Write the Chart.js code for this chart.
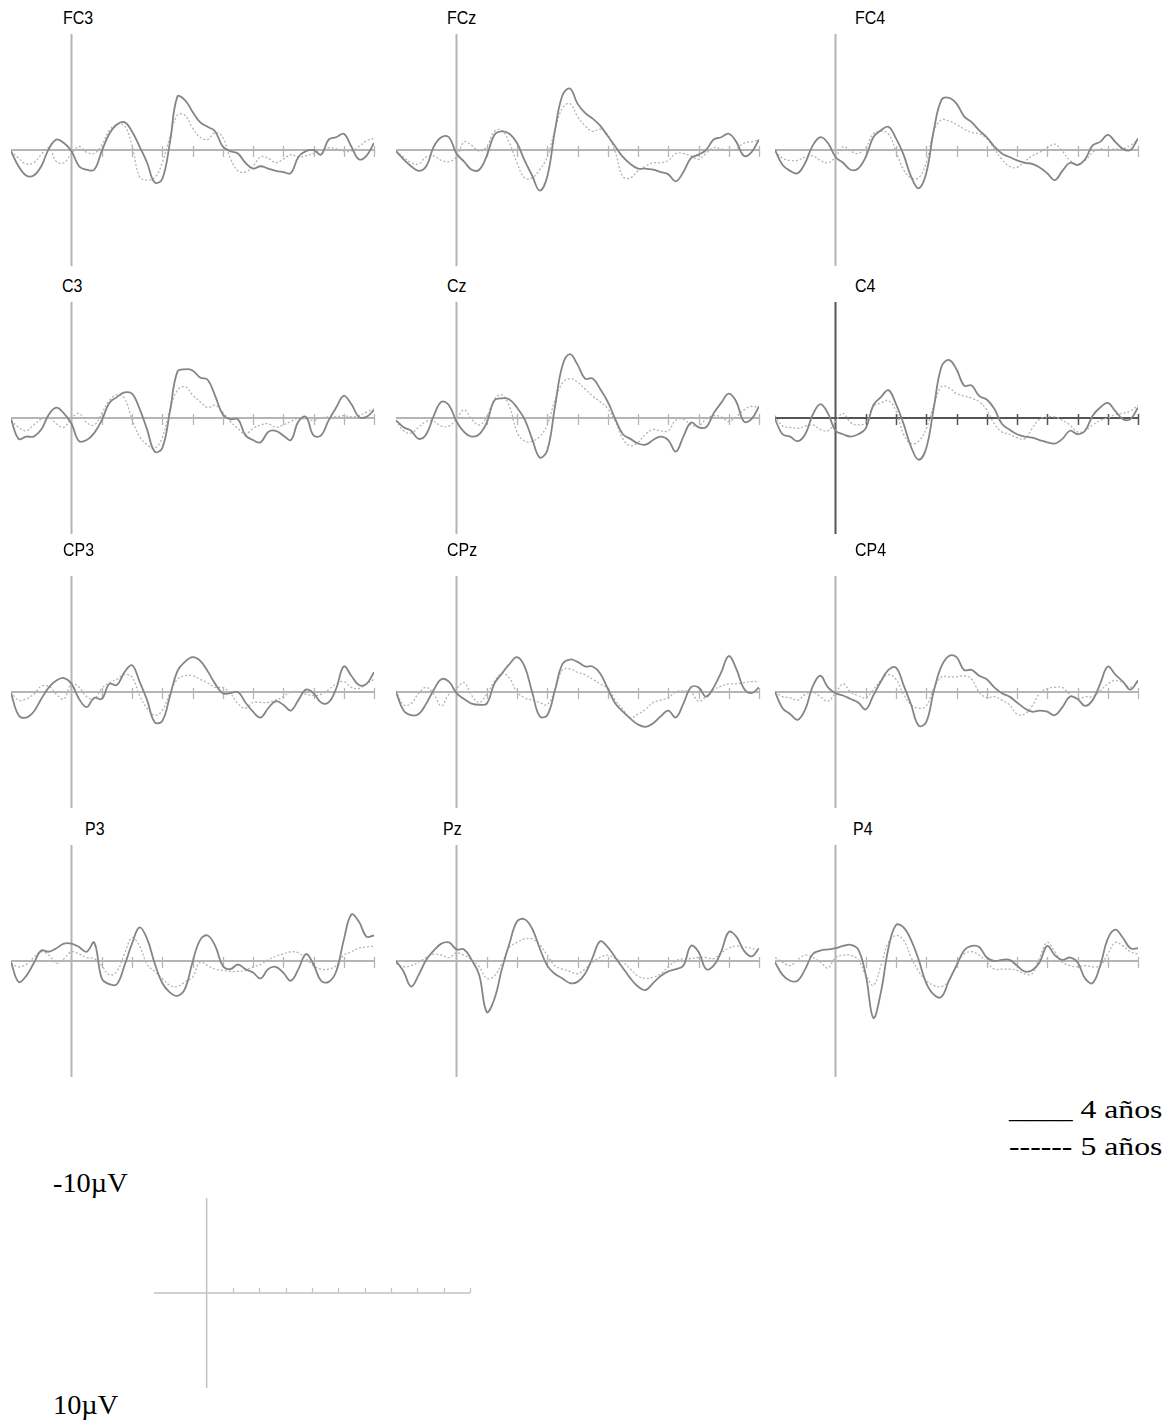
<!DOCTYPE html>
<html>
<head>
<meta charset="utf-8">
<script src="https://cdn.jsdelivr.net/npm/chart.js@4.4.1/dist/chart.umd.min.js"></script>
<style>
  body { margin: 0; background: #fff; }
  #page { position: relative; width: 1174px; height: 1427px; overflow: hidden; background: #fff; }
  canvas { position: absolute; }
  .lab { position: absolute; font: 19px "Liberation Sans", Arial, sans-serif; line-height: 19px; color: #000;
         transform: scaleX(0.84); transform-origin: 0 0; white-space: nowrap; }
  .serif { position: absolute; font-family: "Liberation Serif", "Times New Roman", serif; color: #000; white-space: nowrap;
           transform-origin: 0 0; }
</style>
</head>
<body>
<div id="page"></div>
<script>
// time axis in ms, sampled every 25 ms
const times = [-200,-175,-150,-125,-100,-75,-50,-25,0,25,50,75,100,125,150,175,200,225,250,275,300,
  325,350,375,400,425,450,475,500,525,550,575,600,625,650,675,700,725,750,775,800,825,850,875,900,
  925,950,975,1000];
const tickTimes = [100,200,300,400,500,600,700,800,900,1000];
const groups = ['4 años', '5 años'];

// values in microvolts (negative is drawn up)
const fc3_4 = [0.1,1.4,2.2,2.2,1.4,-0.1,-0.9,-0.6,0.1,1.4,1.7,1.7,0.1,-1.4,-2.2,-2.4,-1.6,-0.3,1.1,2.8,2.5,-0.6,-4.6,-4.3,-3.3,-2.4,-2.0,-1.6,-0.3,0.1,0.3,1.1,1.6,1.4,1.6,1.8,1.9,2.0,0.6,0.1,0.0,0.4,-0.9,-1.1,-1.4,-0.3,0.8,0.5,-0.6];
const fc3_5 = [0.1,0.7,1.2,1.1,0.4,-0.2,1.0,1.1,0.3,-0.3,0.2,0.3,-0.4,-1.7,-2.2,-2.1,-0.4,2.3,2.6,2.4,1.1,-1.1,-3.0,-3.0,-1.9,-1.1,-0.9,-1.5,-1.1,0.7,1.8,1.9,1.4,0.6,0.7,1.1,0.8,0.4,0.6,0.5,0.3,0.0,-0.2,-0.1,0.1,0.1,-0.3,-0.8,-1.0];
const fcz_4 = [0.1,0.8,1.4,1.8,1.4,-0.3,-1.1,-1.1,0.3,1.0,1.7,1.7,0.5,-1.3,-1.6,-1.4,-0.6,0.9,2.2,3.5,2.3,-1.6,-4.7,-5.3,-4.0,-3.2,-2.7,-2.1,-1.2,-0.3,0.6,1.2,1.6,1.6,1.7,1.9,2.1,2.7,1.9,0.7,0.4,0.0,-0.9,-1.1,-1.4,-0.7,0.5,0.2,-0.9];
const fcz_5 = [0.1,0.6,1.1,1.2,0.6,0.5,0.9,1.0,0.6,-0.7,-0.4,0.1,-0.3,-1.6,-1.7,-0.6,1.1,2.4,2.4,1.7,0.6,-1.7,-3.6,-4.0,-2.9,-2.1,-1.6,-1.8,-1.3,0.2,2.3,2.4,1.8,1.4,1.1,1.1,0.9,0.3,0.3,0.5,0.8,0.3,-0.2,-0.1,0.0,-0.1,-0.6,-0.7,-0.9];
const fc4_4 = [0.0,1.3,1.8,2.0,1.1,-0.4,-1.1,-0.6,0.6,1.1,1.7,1.6,0.6,-1.1,-1.7,-2.0,-1.0,0.4,2.3,3.3,2.0,-1.7,-4.3,-4.5,-4.0,-2.9,-2.4,-1.7,-1.1,-0.3,0.3,0.6,0.9,1.1,1.2,1.5,2.0,2.6,1.8,1.1,1.3,0.8,-0.4,-0.7,-1.3,-0.7,-0.1,0.0,-1.0];
const fc4_5 = [0.1,0.7,0.9,0.9,0.6,0.5,0.9,1.1,0.6,-0.3,0.1,0.3,-0.2,-1.4,-1.6,-1.4,0.1,1.7,2.4,2.4,1.1,-1.6,-2.6,-2.5,-2.2,-1.8,-1.5,-1.4,-1.0,-0.1,0.8,1.4,1.5,1.0,0.5,0.2,-0.2,-0.5,0.1,0.9,1.2,0.9,0.2,-0.1,0.0,-0.1,-0.1,-0.4,-0.9];
const c3_4 = [0.1,1.8,1.6,1.6,1.0,-0.3,-0.9,-0.4,0.5,2.0,1.9,1.3,0.2,-1.3,-1.8,-2.2,-2.1,-0.8,1.0,2.9,2.6,-0.5,-4.0,-4.2,-4.1,-3.5,-3.3,-1.9,-0.3,0.1,0.1,1.5,1.9,2.1,1.2,1.1,1.5,1.9,0.3,-0.1,1.5,1.5,0.2,-0.9,-1.9,-1.2,-0.1,-0.1,-0.7];
const c3_5 = [0.2,0.8,1.1,0.6,0.1,-0.1,0.5,0.8,0.0,-0.4,0.4,0.6,-0.4,-1.5,-2.0,-1.7,0.1,1.6,2.3,2.6,1.7,-0.7,-2.4,-2.7,-2.0,-1.4,-0.9,-1.1,-0.5,0.3,0.9,1.4,0.9,0.6,0.5,0.8,0.6,0.3,0.0,0.1,0.2,0.0,-0.1,-0.1,-0.2,-0.1,-0.2,-0.5,-0.8];
const cz_4 = [0.2,0.8,1.1,1.8,1.4,-0.2,-1.4,-1.1,0.3,1.2,1.6,1.4,0.4,-1.5,-1.7,-1.6,-0.9,0.1,1.8,3.4,2.8,-0.9,-4.5,-5.5,-4.6,-3.4,-3.4,-2.5,-1.4,0.1,1.4,1.8,2.2,2.3,1.9,1.6,1.9,2.9,1.6,0.4,0.8,0.8,-0.4,-1.3,-2.1,-1.4,0.3,0.1,-1.0];
const cz_5 = [0.2,1.1,1.3,0.8,0.3,0.3,0.7,0.7,0.1,-0.7,0.1,0.6,-0.1,-1.6,-2.0,-1.0,1.2,2.0,2.0,1.6,0.6,-1.5,-3.0,-3.4,-3.1,-2.5,-1.9,-1.4,-0.8,0.3,1.8,2.4,2.1,1.4,1.0,1.1,1.1,0.2,0.1,0.6,0.7,0.1,-0.2,-0.1,0.3,-0.1,-0.7,-1.0,-0.9];
const c4_4 = [0.1,1.4,1.6,2.0,1.4,-0.3,-1.2,-0.4,1.1,1.4,1.6,1.4,0.9,-1.1,-1.8,-2.4,-1.2,0.5,2.5,3.6,2.6,-0.9,-4.4,-5.0,-4.2,-2.8,-2.8,-1.9,-1.6,-0.8,0.5,1.0,1.4,1.6,1.7,1.9,2.1,2.2,1.8,1.1,1.4,1.1,-0.2,-0.9,-1.3,-0.6,0.1,0.1,-0.9];
const c4_5 = [-0.2,0.7,0.8,0.9,0.7,0.6,1.0,1.1,0.3,-0.4,0.4,0.6,0.4,-1.0,-1.3,-1.5,-0.6,1.4,2.2,2.0,0.9,-1.1,-2.7,-2.6,-2.1,-1.9,-1.7,-1.4,-0.7,0.5,1.2,1.4,1.7,1.8,0.9,0.1,-0.1,-0.1,0.2,0.6,1.2,1.1,0.6,0.2,0.0,-0.3,-0.4,-0.6,-1.1];
const cp3_4 = [0.1,2.0,2.2,1.7,0.6,-0.4,-1.0,-1.2,-0.7,0.6,1.3,0.5,0.6,-0.7,-0.6,-1.7,-2.3,-0.9,0.7,2.6,2.5,0.4,-1.8,-2.6,-3.0,-2.7,-1.8,-0.7,0.1,0.1,0.0,0.9,1.7,2.2,1.4,0.8,1.1,1.6,0.7,-0.2,0.1,0.9,0.9,-0.3,-2.2,-1.4,-0.6,-0.7,-1.7];
const cp3_5 = [0.0,0.7,0.6,0.2,-0.5,-0.5,0.2,0.6,-0.7,-0.4,0.4,0.6,-0.3,-0.8,-1.1,-1.5,-1.3,0.3,1.4,2.0,1.6,0.1,-1.1,-1.4,-1.4,-1.1,-0.8,-0.4,-0.4,0.1,1.0,1.4,0.9,0.9,0.9,0.7,0.4,0.0,0.0,0.2,0.3,0.2,-0.2,-0.7,-0.9,-0.4,-0.3,-0.7,-1.1];
const cpz_4 = [0.0,1.6,2.0,1.9,1.0,-0.2,-1.1,-0.9,0.1,0.6,1.0,1.1,1.0,-0.7,-1.6,-2.4,-3.0,-2.2,0.0,2.1,2.0,-0.1,-2.4,-2.8,-2.6,-2.2,-2.2,-1.6,-0.3,1.0,1.7,2.3,2.8,3.0,2.7,2.1,1.6,2.2,1.0,-0.4,-0.4,0.4,-0.4,-1.7,-3.1,-2.0,-0.3,0.1,-0.4];
const cpz_5 = [-0.1,1.1,1.0,0.1,-0.4,0.2,1.2,0.2,-0.3,-0.8,0.3,0.9,0.2,-0.9,-1.6,-1.2,0.0,0.5,0.7,0.9,1.1,-0.2,-1.9,-2.0,-1.7,-1.5,-1.1,-0.7,-0.3,0.7,1.5,2.2,1.9,1.5,0.9,0.7,0.5,0.0,-0.1,0.0,0.8,0.4,-0.2,-0.5,-0.7,-0.7,-0.8,-0.9,-0.9];
const cp4_4 = [0.0,1.4,1.9,2.4,1.5,-0.5,-1.4,-0.4,0.1,0.3,0.6,0.9,1.5,0.3,-0.9,-1.9,-2.1,-0.6,1.1,2.9,2.6,-0.1,-2.2,-3.1,-3.0,-1.9,-1.9,-1.4,-1.1,-0.4,0.1,0.4,0.9,1.4,1.7,1.6,1.7,2.0,1.3,0.4,0.6,1.2,0.7,-0.7,-2.2,-1.5,-0.9,-0.2,-1.0];
const cp4_5 = [0.0,0.4,0.5,0.7,0.2,0.0,0.4,0.8,0.1,-0.7,0.0,0.3,0.5,-0.2,-1.0,-1.5,-1.1,0.2,1.1,1.4,1.2,-0.3,-1.3,-1.3,-1.3,-1.4,-1.1,0.0,0.5,0.4,0.7,1.1,1.9,1.9,1.2,0.1,-0.3,-0.4,-0.4,0.2,0.6,0.4,0.4,-0.1,-0.7,-1.0,-0.8,-0.4,-0.9];
const p3_4 = [0.1,1.8,1.3,0.2,-0.9,-0.8,-1.1,-1.5,-1.5,-1.2,-0.8,-1.6,1.5,2.0,2.0,0.4,-1.5,-2.9,-1.9,0.2,1.9,2.7,3.0,2.4,0.1,-1.8,-2.2,-1.3,0.4,0.7,0.3,0.7,1.0,1.5,0.7,0.5,1.0,1.7,0.7,-0.6,0.3,1.7,1.8,0.9,-1.8,-4.0,-3.4,-2.1,-2.2];
const p3_5 = [0.2,0.5,0.3,-0.3,-0.8,-0.5,0.2,-0.2,-0.8,-0.6,-0.3,-0.2,0.4,1.2,0.9,-0.6,-2.0,-1.3,0.3,0.9,1.5,2.1,2.2,1.8,1.4,0.1,0.4,0.7,0.8,0.9,0.9,0.8,0.5,0.3,-0.1,-0.4,-0.6,-0.8,-0.7,-0.2,0.4,0.7,0.7,0.4,-0.5,-0.8,-1.1,-1.2,-1.3];
const pz_4 = [0.0,0.9,2.2,1.2,-0.1,-0.9,-1.5,-1.6,-1.0,-1.0,-0.1,1.2,4.4,3.3,0.7,-1.5,-3.4,-3.6,-2.8,-1.1,0.4,1.1,1.5,1.9,1.8,1.1,-0.3,-1.7,-1.2,-0.3,0.6,1.5,2.2,2.5,1.9,1.3,0.9,0.7,0.4,-1.3,-0.8,0.7,0.4,-0.8,-2.5,-2.1,-0.9,-0.4,-1.1];
const pz_5 = [0.2,0.5,0.4,0.1,-0.3,-0.6,-0.5,-0.3,-0.7,-0.5,-0.1,0.5,1.5,1.3,0.2,-1.2,-1.6,-1.9,-1.9,-1.4,-0.5,0.4,0.7,0.9,1.1,0.7,0.1,-0.3,-0.5,-0.2,0.1,0.7,1.3,1.5,1.4,1.1,0.5,0.0,-0.2,-0.2,-0.3,-0.3,-0.2,-0.7,-1.1,-1.3,-1.2,-1.1,-0.8];
const p4_4 = [0.1,1.2,1.7,1.7,0.7,-0.6,-0.9,-1.0,-1.1,-1.3,-1.4,-1.0,1.2,4.9,2.7,-1.1,-3.1,-2.9,-1.8,-0.1,1.9,2.9,3.1,1.7,0.4,-0.9,-1.3,-1.2,-0.3,0.0,-0.1,-0.1,0.4,0.9,0.8,0.1,-1.3,-0.5,-0.1,-0.3,0.1,1.5,1.9,0.4,-1.9,-2.7,-2.0,-1.1,-1.1];
const p4_5 = [-0.3,0.1,0.4,-0.1,-0.5,-0.3,0.1,0.6,-0.3,-0.5,-0.5,-0.1,1.2,2.1,0.4,-1.6,-2.2,-1.8,-0.3,0.9,1.7,2.1,2.2,1.7,0.3,-0.6,-0.8,-0.5,0.1,0.7,0.7,0.7,0.8,1.1,1.1,-0.3,-1.6,-0.8,0.1,0.4,0.5,0.4,0.5,0.4,-0.6,-1.6,-1.3,-0.8,-0.6];

const channels = ['FC3','FCz','FC4','C3','Cz','C4','CP3','CPz','CP4','P3','Pz','P4'];
const series4 = [fc3_4, fcz_4, fc4_4, c3_4, cz_4, c4_4, cp3_4, cpz_4, cp4_4, p3_4, pz_4, p4_4];
const series5 = [fc3_5, fcz_5, fc4_5, c3_5, cz_5, c4_5, cp3_5, cpz_5, cp4_5, p3_5, pz_5, p4_5];

// layout of the grid
const colLeft = [11, 396, 775];
const rowTop = [34, 302, 576, 845];
const plotW = 363, plotH = 232, pad = 6;
const labelLeft = [[63, 447, 855], [62, 447, 855], [63, 447, 855], [85, 443, 853]];
const labelTop = [8, 276, 540, 819];

const page = document.getElementById('page');

// draws the zero lines and the 100 ms ticks from the chart's own scales
const eegAxes = {
  id: 'eegAxes',
  beforeDatasetsDraw(chart, args, opts) {
    const ctx = chart.ctx;
    const x = chart.scales.x, y = chart.scales.y;
    const x0 = x.getPixelForValue(0), y0 = y.getPixelForValue(0);
    ctx.save();
    ctx.strokeStyle = opts.color;
    ctx.lineWidth = opts.width;
    ctx.beginPath();
    ctx.moveTo(x.getPixelForValue(-200), y0);
    ctx.lineTo(x.getPixelForValue(1000), y0);
    ctx.moveTo(x0, y.getPixelForValue(-10));
    ctx.lineTo(x0, y.getPixelForValue(10));
    ctx.stroke();
    ctx.lineWidth = opts.tickWidth;
    ctx.beginPath();
    tickTimes.forEach(t => {
      const px = Math.round(x.getPixelForValue(t)) + 0.5;
      ctx.moveTo(px, y0 - opts.up);
      ctx.lineTo(px, y0 + opts.down);
    });
    ctx.stroke();
    ctx.restore();
  }
};

function makeCanvas(left, top, w, h) {
  const c = document.createElement('canvas');
  c.width = w + 2 * pad;
  c.height = h + 2 * pad;
  c.style.left = (left - pad) + 'px';
  c.style.top = (top - pad) + 'px';
  page.appendChild(c);
  return c;
}

function baseOptions(axisOpts) {
  return {
    responsive: false,
    animation: false,
    events: [],
    layout: { padding: pad },
    plugins: { legend: { display: false }, tooltip: { enabled: false }, eegAxes: axisOpts },
    scales: {
      x: { type: 'linear', min: -200, max: 1000, display: false },
      y: { min: -10, max: 10, reverse: true, display: false }
    }
  };
}

channels.forEach((name, i) => {
  const row = Math.floor(i / 3), col = i % 3;
  const canvas = makeCanvas(colLeft[col], rowTop[row], plotW, plotH);
  const dark = name === 'C4';
  new Chart(canvas, {
    type: 'line',
    data: {
      datasets: [
        { label: groups[0], data: times.map((t, k) => ({ x: t, y: series4[i][k] })),
          borderColor: '#858585', borderWidth: 1.8, pointRadius: 0, tension: 0.4, fill: false },
        { label: groups[1], data: times.map((t, k) => ({ x: t, y: series5[i][k] })),
          borderColor: '#b3b3b3', borderWidth: 1.3, borderDash: [2, 2], pointRadius: 0, tension: 0.4, fill: false }
      ]
    },
    options: baseOptions({ color: dark ? '#555555' : '#b5b5b5', width: 2, tickWidth: dark ? 1.5 : 1.3, up: 4, down: 7 }),
    plugins: [eegAxes]
  });

  const lab = document.createElement('div');
  lab.className = 'lab';
  lab.textContent = name;
  lab.style.left = labelLeft[row][col] + 'px';
  lab.style.top = labelTop[row] + 'px';
  page.appendChild(lab);
});

// calibration cross at the bottom
const scaleCanvas = makeCanvas(154, 1198, 316, 190);
new Chart(scaleCanvas, {
  type: 'line',
  data: { datasets: [] },
  options: baseOptions({ color: '#c2c2c2', width: 1.5, tickWidth: 1.2, up: 5, down: 0 }),
  plugins: [eegAxes]
});

function serifText(txt, left, top, size, sx) {
  const d = document.createElement('div');
  d.className = 'serif';
  d.textContent = txt;
  d.style.left = left + 'px';
  d.style.top = top + 'px';
  d.style.fontSize = size + 'px';
  d.style.lineHeight = size + 'px';
  d.style.transform = 'scaleX(' + sx + ')';
  page.appendChild(d);
}

serifText('____ ' + groups[0], 1009, 1097, 25, 1.27);
serifText('------ ' + groups[1], 1009, 1134, 25, 1.27);
serifText('-10µV', 53, 1170, 27, 1.05);
serifText('10µV', 53, 1392, 27, 1.05);
</script>
</body>
</html>
